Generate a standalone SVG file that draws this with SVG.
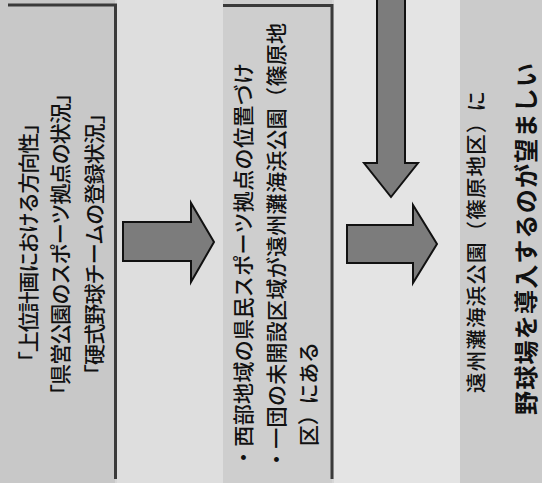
<svg xmlns="http://www.w3.org/2000/svg" width="542" height="483" viewBox="0 0 542 483">
<style>
.t{font-family:"Noto Sans CJK JP","Noto Sans CJK SC",sans-serif;fill:#111;font-size:21px;font-weight:500;dominant-baseline:central;text-anchor:start}
.s{font-size:20.5px}
.b{font-size:24px;font-weight:700}
.frame{fill:none;stroke:#3a3a3a;stroke-width:3}
.arrow{fill:#7c7c7c;stroke:#111;stroke-width:2;stroke-linejoin:miter}
</style>
<rect x="0" y="0" width="542" height="483" fill="#d6d6d6"/>
<rect x="0" y="0" width="115" height="483" fill="#c8c8c8"/>
<rect x="117" y="0" width="106" height="483" fill="#dedede"/>
<rect x="223" y="0" width="109" height="483" fill="#cecece"/>
<rect x="334" y="0" width="126" height="483" fill="#e4e4e4"/>
<rect x="460" y="0" width="82" height="483" fill="#cbcbcb"/>

<g id="box1">
<path class="frame" d="M8 5H115.5V479"/>
<text class="t" transform="translate(27,372) rotate(-90)" textLength="259" lengthAdjust="spacing">「上位計画における方向性」</text>
<text class="t" transform="translate(59,405) rotate(-90)" textLength="322" lengthAdjust="spacing">「県営公園のスポーツ拠点の状況」</text>
<text class="t" transform="translate(93,385) rotate(-90)" textLength="282" lengthAdjust="spacing">「硬式野球チームの登録状況」</text>
</g>

<g id="box2">
<path class="frame" d="M223 5.5H332V479"/>
<text class="t" transform="translate(242,468) rotate(-90)" textLength="405" lengthAdjust="spacing">・西部地域の県民スポーツ拠点の位置づけ</text>
<text class="t" transform="translate(275,470) rotate(-90)" textLength="447" lengthAdjust="spacing">・一団の未開設区域が遠州灘海浜公園（篠原地</text>
<text class="t" transform="translate(307,446) rotate(-90)" textLength="104" lengthAdjust="spacing">区）にある</text>
</g>

<g id="conclusion">
<text class="t s" transform="translate(475,393) rotate(-90)" textLength="302" lengthAdjust="spacing">遠州灘海浜公園（篠原地区）に</text>
<text class="t b" transform="translate(524,415) rotate(-90)" textLength="352" lengthAdjust="spacing">野球場を導入するのが望ましい</text>
</g>

<g id="connectors">
<path class="arrow" d="M123 222H191V203L214 242L191 282V261H123Z"/>
<path class="arrow" d="M347 225H413V205L437 244L413 283V263H347Z"/>
<path class="arrow" d="M377 -2V163H364L391 197L418 163H405V-2Z"/>
</g>
</svg>
